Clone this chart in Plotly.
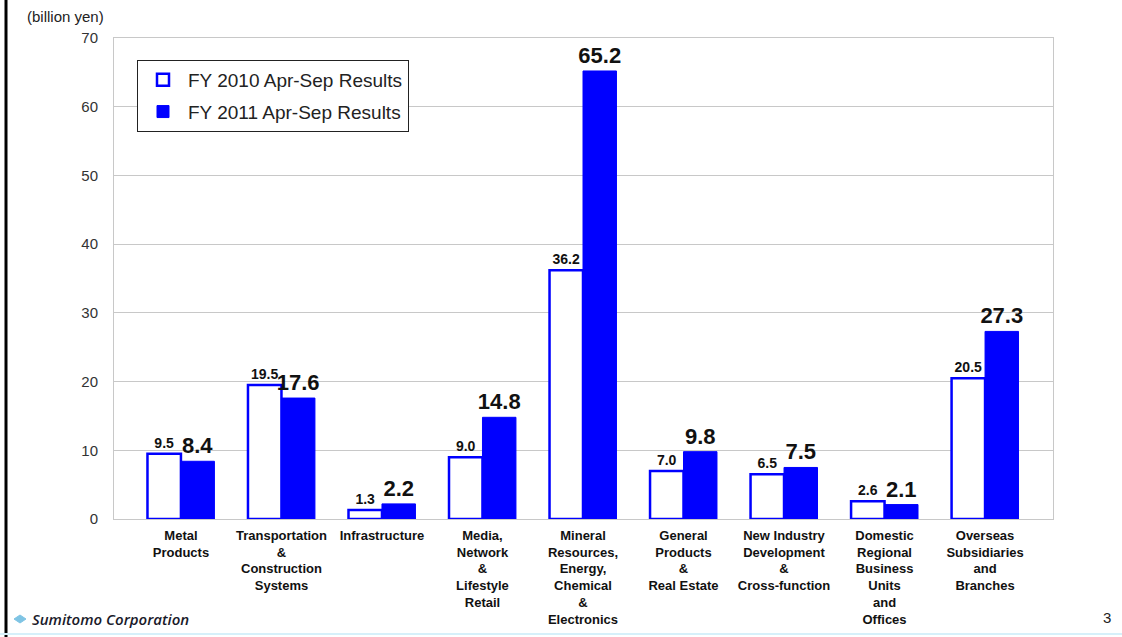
import plotly.graph_objects as go

categories = [
    "Metal<br>Products",
    "Transportation<br>&<br>Construction<br>Systems",
    "Infrastructure",
    "Media,<br>Network<br>&<br>Lifestyle<br>Retail",
    "Mineral<br>Resources,<br>Energy,<br>Chemical<br>&<br>Electronics",
    "General<br>Products<br>&<br>Real Estate",
    "New Industry<br>Development<br>&<br>Cross-function",
    "Domestic<br>Regional<br>Business<br>Units<br>and<br>Offices",
    "Overseas<br>Subsidiaries<br>and<br>Branches",
]
fy2010 = [9.5, 19.5, 1.3, 9.0, 36.2, 7.0, 6.5, 2.6, 20.5]
fy2011 = [8.4, 17.6, 2.2, 14.8, 65.2, 9.8, 7.5, 2.1, 27.3]
series_names = ["FY 2010 Apr-Sep Results", "FY 2011 Apr-Sep Results"]
y_ticks = [0, 10, 20, 30, 40, 50, 60, 70]

BLUE = "#0000FF"
FONT = "Liberation Sans, Arial, sans-serif"

W, H = 1122, 637
L, R, T, B = 114, 69, 38, 118
PW, PH = W - L - R, H - T - B


def px(x):
    return (x - L) / PW


def py(y):
    return (H - B - y) / PH


fig = go.Figure()
fig.add_trace(go.Bar(
    name=series_names[0], x=categories, y=fy2010, legendgroup="a",
    marker=dict(color="white", line=dict(color=BLUE, width=2.5)),
    texttemplate="%{y:.1f}", textposition="outside", constraintext="none",
    textfont=dict(family=FONT, size=14, color="#111", weight="bold"),
    cliponaxis=False,
))
fig.add_trace(go.Bar(
    name=series_names[1], x=categories, y=fy2011, legendgroup="b",
    marker=dict(color=BLUE, line=dict(color=BLUE, width=1)),
    texttemplate="%{y:.1f}", textposition="outside", constraintext="none",
    textfont=dict(family=FONT, size=22, color="#111", weight="bold"),
    cliponaxis=False,
))

fig.update_layout(
    width=W, height=H,
    margin=dict(l=L, r=R, t=T, b=B, autoexpand=False),
    paper_bgcolor="white", plot_bgcolor="white",
    barmode="group", bargap=0.334, bargroupgap=0,
    font=dict(family=FONT, color="#222"),
    showlegend=True,
    legend=dict(
        x=px(137), y=py(60), xanchor="left", yanchor="top",
        bgcolor="white", bordercolor="#222", borderwidth=1,
        font=dict(family=FONT, size=19, color="#222"),
        itemwidth=40, tracegroupgap=4, traceorder="grouped",
    ),
    xaxis=dict(
        range=[-0.666, 8.676], showgrid=False, showline=True, linecolor="#c8c8c8",
        mirror=True, ticks="", tickangle=0, ticklabelstandoff=4, automargin=False,
        tickfont=dict(family=FONT, size=13, color="#111", weight="bold"),
    ),
    yaxis=dict(
        range=[0, 70], tickvals=y_ticks, showgrid=True, gridcolor="#c8c8c8",
        showline=True, linecolor="#c8c8c8", mirror=True, zeroline=False,
        ticks="", ticklabelstandoff=12, automargin=False,
        tickfont=dict(family=FONT, size=15, color="#333"),
    ),
    annotations=[
        dict(text="(billion yen)", xref="paper", yref="paper", x=px(25), y=py(16),
             xanchor="left", yanchor="middle", showarrow=False,
             font=dict(family=FONT, size=15, color="#222")),
        dict(text="Sumitomo Corporation", xref="paper", yref="paper", x=px(30), y=py(619),
             xanchor="left", yanchor="middle", showarrow=False,
             font=dict(family="Open Sans, sans-serif", size=15, color="#1a1a2a",
                       style="italic", weight=600)),
        dict(text="3", xref="paper", yref="paper", x=px(1107), y=py(617),
             xanchor="center", yanchor="middle", showarrow=False,
             font=dict(family=FONT, size=15, color="#222")),
    ],
    shapes=[
        dict(type="line", xref="paper", yref="paper", x0=px(6), x1=px(6), y0=py(0), y1=py(637),
             line=dict(color="black", width=3)),
        dict(type="line", xref="paper", yref="paper", x0=px(0), x1=px(1122), y0=py(634), y1=py(634),
             line=dict(color="#d6f0fa", width=2)),
        dict(type="path", xref="paper", yref="paper",
             path=f"M {px(14)} {py(619)} L {px(20)} {py(615)} L {px(26)} {py(619)} L {px(20)} {py(623)} Z",
             fillcolor="#7fc4e4", line=dict(color="#7fc4e4", width=1)),
    ],
)

fig.write_html("out.html")
